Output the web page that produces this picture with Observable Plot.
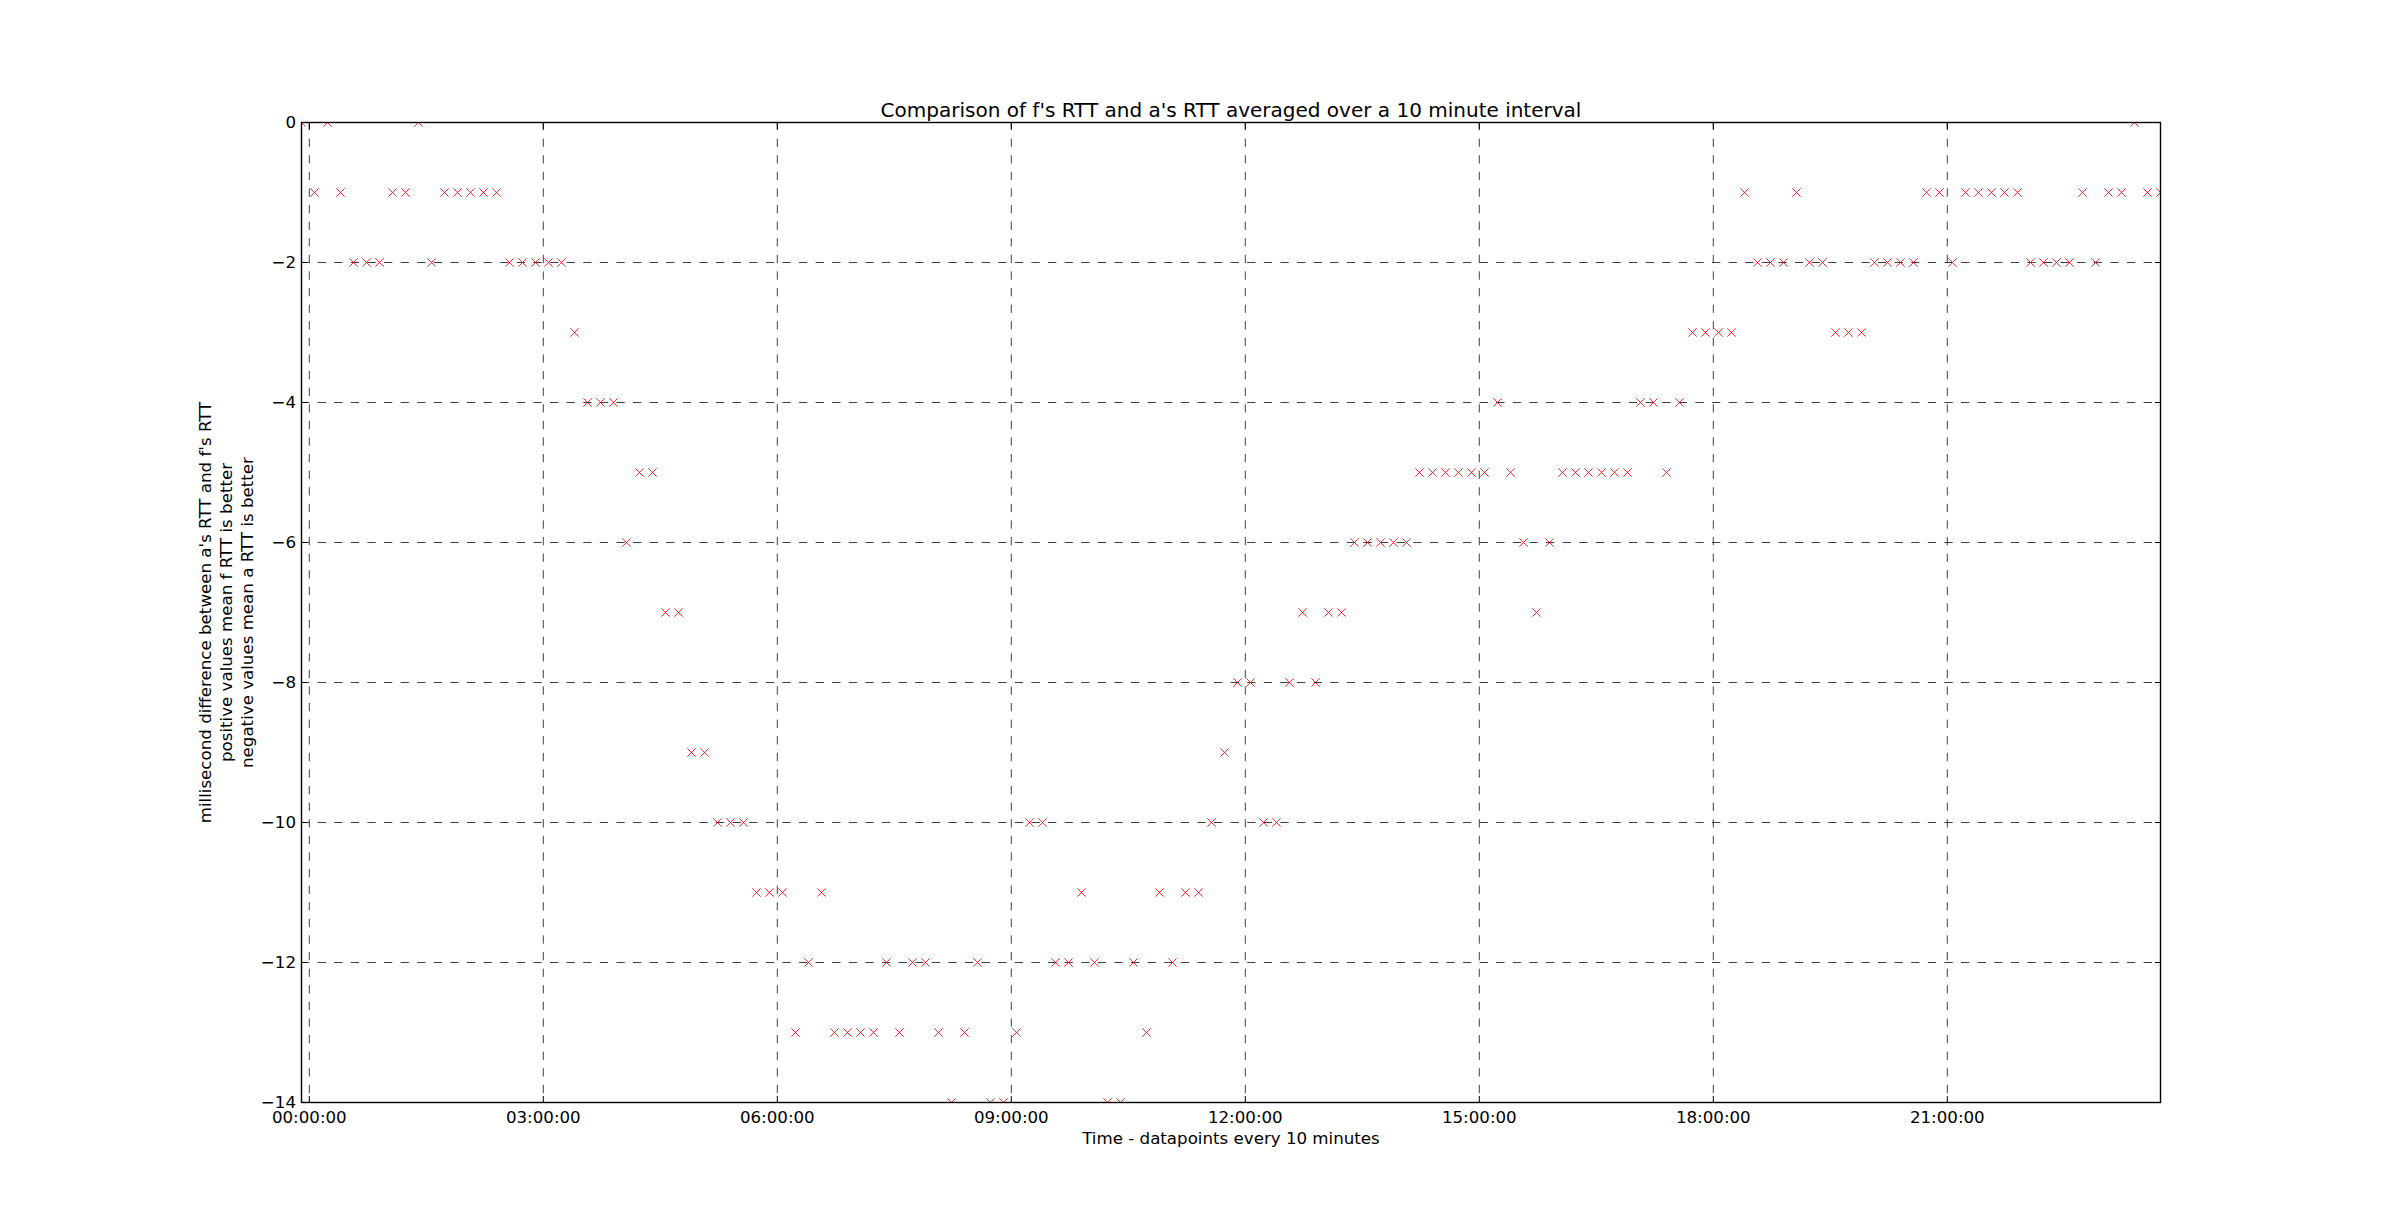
<!DOCTYPE html>
<html>
<head>
<meta charset="utf-8">
<script src="https://cdn.jsdelivr.net/npm/d3@7"></script>
<script src="https://cdn.jsdelivr.net/npm/@observablehq/plot@0.6"></script>
<style>
  html, body { margin: 0; padding: 0; background: #fff; }
  #chart svg { display: block; }
</style>
</head>
<body>
<div id="chart"></div>
<script>
// ---- data ----
const titleText = "Comparison of f's RTT and a's RTT averaged over a 10 minute interval";
const xLabel = "Time - datapoints every 10 minutes";
const yLabelLines = [
  "millisecond difference between a's RTT and f's RTT",
  "positive values mean f RTT is better",
  "negative values mean a RTT is better"
];
// first sample time and spacing of samples
const firstSample = "2014-01-01T23:54:00Z";
const sampleMinutes = 10;
// mean RTT difference (ms) for each 10-minute sample
const rttDiff = [
   0, -1,  0, -1, -2, -2, -2, -1, -1,  0,
  -2, -1, -1, -1, -1, -1, -2, -2, -2, -2,
  -2, -3, -4, -4, -4, -6, -5, -5, -7, -7,
  -9, -9,-10,-10,-10,-11,-11,-11,-13,-12,
 -11,-13,-13,-13,-13,-12,-13,-12,-12,-13,
 -14,-13,-12,-14,-14,-13,-10,-10,-12,-12,
 -11,-12,-14,-14,-12,-13,-11,-12,-11,-11,
 -10, -9, -8, -8,-10,-10, -8, -7, -8, -7,
  -7, -6, -6, -6, -6, -6, -5, -5, -5, -5,
  -5, -5, -4, -5, -6, -7, -6, -5, -5, -5,
  -5, -5, -5, -4, -4, -5, -4, -3, -3, -3,
  -3, -1, -2, -2, -2, -1, -2, -2, -3, -3,
  -3, -2, -2, -2, -2, -1, -1, -2, -1, -1,
  -1, -1, -1, -2, -2, -2, -2, -1, -2, -1,
  -1,  0, -1, -1
];
const xTickHours = [0, 3, 6, 9, 12, 15, 18, 21];
const yTicks = [0, -2, -4, -6, -8, -10, -12, -14];
const yDomain = [-14, 0];

// ---- build table ----
const t0 = new Date(firstSample);
const rows = rttDiff.map((v, i) => ({
  time: new Date(t0.getTime() + i * sampleMinutes * 60000),
  diff: v
}));
const dayStart = new Date(Date.UTC(2014, 0, 2));
const xTicks = xTickHours.map(h => new Date(dayStart.getTime() + h * 3600000));
const xDomain = [rows[0].time, rows[rows.length - 1].time];
const fmtTime = d3.utcFormat("%H:%M:%S");
const fmtY = d => d === 0 ? "0" : (d < 0 ? "\u2212" : "") + Math.abs(d);

const gridStyle = {stroke: "#000", strokeOpacity: 0.75, strokeWidth: 1, strokeDasharray: "8.3,8.3"};

const chart = Plot.plot({
  width: 2400,
  height: 1225,
  marginLeft: 301,
  marginRight: 240,
  marginTop: 122,
  marginBottom: 123,
  style: {fontFamily: "'DejaVu Sans', sans-serif", fontSize: "16.67px", background: "#fff", color: "#000"},
  x: {type: "utc", domain: xDomain},
  y: {domain: yDomain},
  marks: [
    Plot.ruleY(yTicks, {...gridStyle}),
    Plot.ruleX(xTicks, {...gridStyle}),
    Plot.dot(rows, {x: "time", y: "diff", symbol: "times", r: 3.9, stroke: "#ff0000", strokeWidth: 0.8, clip: true}),
    Plot.axisY({anchor: "left", ticks: yTicks, tickFormat: fmtY, tickSize: -6, tickPadding: 11.5, label: null, fontSize: 16.67, strokeWidth: 1}),
    Plot.axisY({anchor: "right", ticks: yTicks, tickFormat: () => "", tickSize: -6, label: null, strokeWidth: 1}),
    Plot.axisX({anchor: "bottom", ticks: xTicks, tickFormat: fmtTime, tickSize: -6, tickPadding: 15, label: null, fontSize: 16.67, strokeWidth: 1}),
    Plot.axisX({anchor: "top", ticks: xTicks, tickFormat: () => "", tickSize: -6, label: null, strokeWidth: 1}),
    Plot.frame({stroke: "#000", strokeWidth: 1.4}),
    Plot.text([titleText], {frameAnchor: "top", lineAnchor: "bottom", dy: -6, fontSize: 20, text: d => d}),
    Plot.text([xLabel], {frameAnchor: "bottom", lineAnchor: "top", dy: 30, fontSize: 16.67, text: d => d}),
    Plot.text([yLabelLines.join("\n")], {frameAnchor: "left", rotate: -90, textAnchor: "middle", lineAnchor: "middle", lineHeight: 1.24, dx: -76, fontSize: 16.67, text: d => d})
  ]
});
document.getElementById("chart").appendChild(chart);
</script>
</body>
</html>
